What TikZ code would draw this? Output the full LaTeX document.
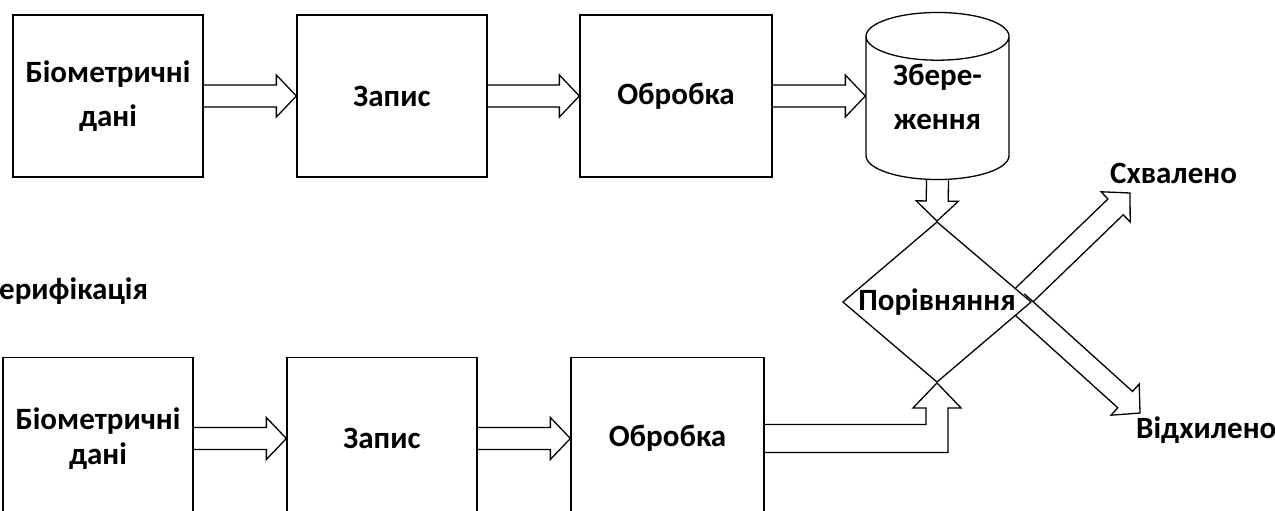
\documentclass[tikz,border=0pt]{standalone}
\usepackage{fontspec}
\setmainfont{Carlito}
\usepackage{tikz}
\usetikzlibrary{shapes,calc}
\pgfdeclarelayer{edgelayer}
\pgfdeclarelayer{nodelayer}
\pgfsetlayers{edgelayer,nodelayer,main}
\newcommand{\txt}{\fontsize{31}{35}\selectfont\bfseries}
\tikzstyle{none}=[inner sep=0pt,font=\txt]
\tikzstyle{block}=[rectangle,draw=black,fill=white,line width=1.3,minimum width=190,minimum height=162,align=center,font=\txt]
\tikzstyle{store}=[cylinder,shape border rotate=90,aspect=0.5,draw=black,fill=white,line width=1.3,minimum width=143,minimum height=162,align=center,font=\txt]
\tikzstyle{decision}=[diamond,aspect=1.175,draw=black,fill=white,line width=1.3,minimum width=188,minimum height=160,inner sep=0pt,font=\txt]
\tikzstyle{outline}=[draw=black,fill=white,line width=1.3,line join=miter]
% hollow block arrow: shaft 22, head 42
\tikzstyle{fatarrow}=[style=outline,to path={let \p1=(\tikztostart), \p2=(\tikztotarget), \p3=($(\p2)!20pt!(\p1)$) in
  ($(\p1)!11pt!90:(\p2)$) -- ($(\p3)!11pt!90:(\p2)$) -- ($(\p3)!21pt!90:(\p2)$) -- (\p2)
  -- ($(\p3)!21pt!-90:(\p2)$) -- ($(\p3)!11pt!-90:(\p2)$) -- ($(\p1)!11pt!-90:(\p2)$)}]

\begin{document}
\begin{tikzpicture}[x=1pt,y=-1pt]
	\useasboundingbox (0,0) rectangle (1275,511);
	\begin{pgfonlayer}{nodelayer}
		\node [style=block] (B) at (108, 96) {Біометричні\\[9pt]дані};
		\node [style=block] (Z) at (392, 96) {Запис};
		\node [style=block, minimum width=192] (O) at (676, 96) {Обробка};
		% text sits low in a cylinder, so lift it with a deeper box
		\node [style=store, anchor=shape center, text depth=30pt] (S) at (937.5, 96) {Збере-\\[9pt]ження};
		\node [style=decision] (P) at (937, 302) {Порівняння};
		\node [style=block] (B2) at (98, 438.5) {Біометричні\\дані};
		\node [style=block] (Z2) at (382, 438.5) {Запис};
		\node [style=block, minimum width=193] (O2) at (667.5, 438.5) {Обробка};
		\node [style=none, anchor=base west] (V) at (-1, 299) {ерифікація};
		\node [style=none, anchor=base west] (Y) at (1110, 183) {Схвалено};
		\node [style=none, anchor=base west] (N) at (1136, 438) {Відхилено};
		\coordinate (Pc) at (1017, 302);
		\coordinate (yes) at (1130, 193);
		\coordinate (no) at (1140, 413);
	\end{pgfonlayer}
	\begin{pgfonlayer}{edgelayer}
		\draw [style=fatarrow] (B.east) to (Z.west);
		\draw [style=fatarrow] (Z.east) to (O.west);
		\draw [style=fatarrow] (O.east) to (O.east -| S.west);
		\draw [style=fatarrow] (S.south) to (P.north);
		\draw [style=fatarrow] (B2.east) to (Z2.west);
		\draw [style=fatarrow] (Z2.east) to (O2.west);
		\draw [style=outline] ($(O2.east)+(0,-14)$) -| ($(P.south)+(-11,25)$) -- ++(-13,0) -- (P.south)
			-- ($(P.south)+(24,25)$) -- ++(-13,0) |- ($(O2.east)+(0,14)$);
		\draw [style=fatarrow] (Pc) to (yes);
		\draw [style=fatarrow] (Pc) to (no);
	\end{pgfonlayer}
\end{tikzpicture}
\end{document}
